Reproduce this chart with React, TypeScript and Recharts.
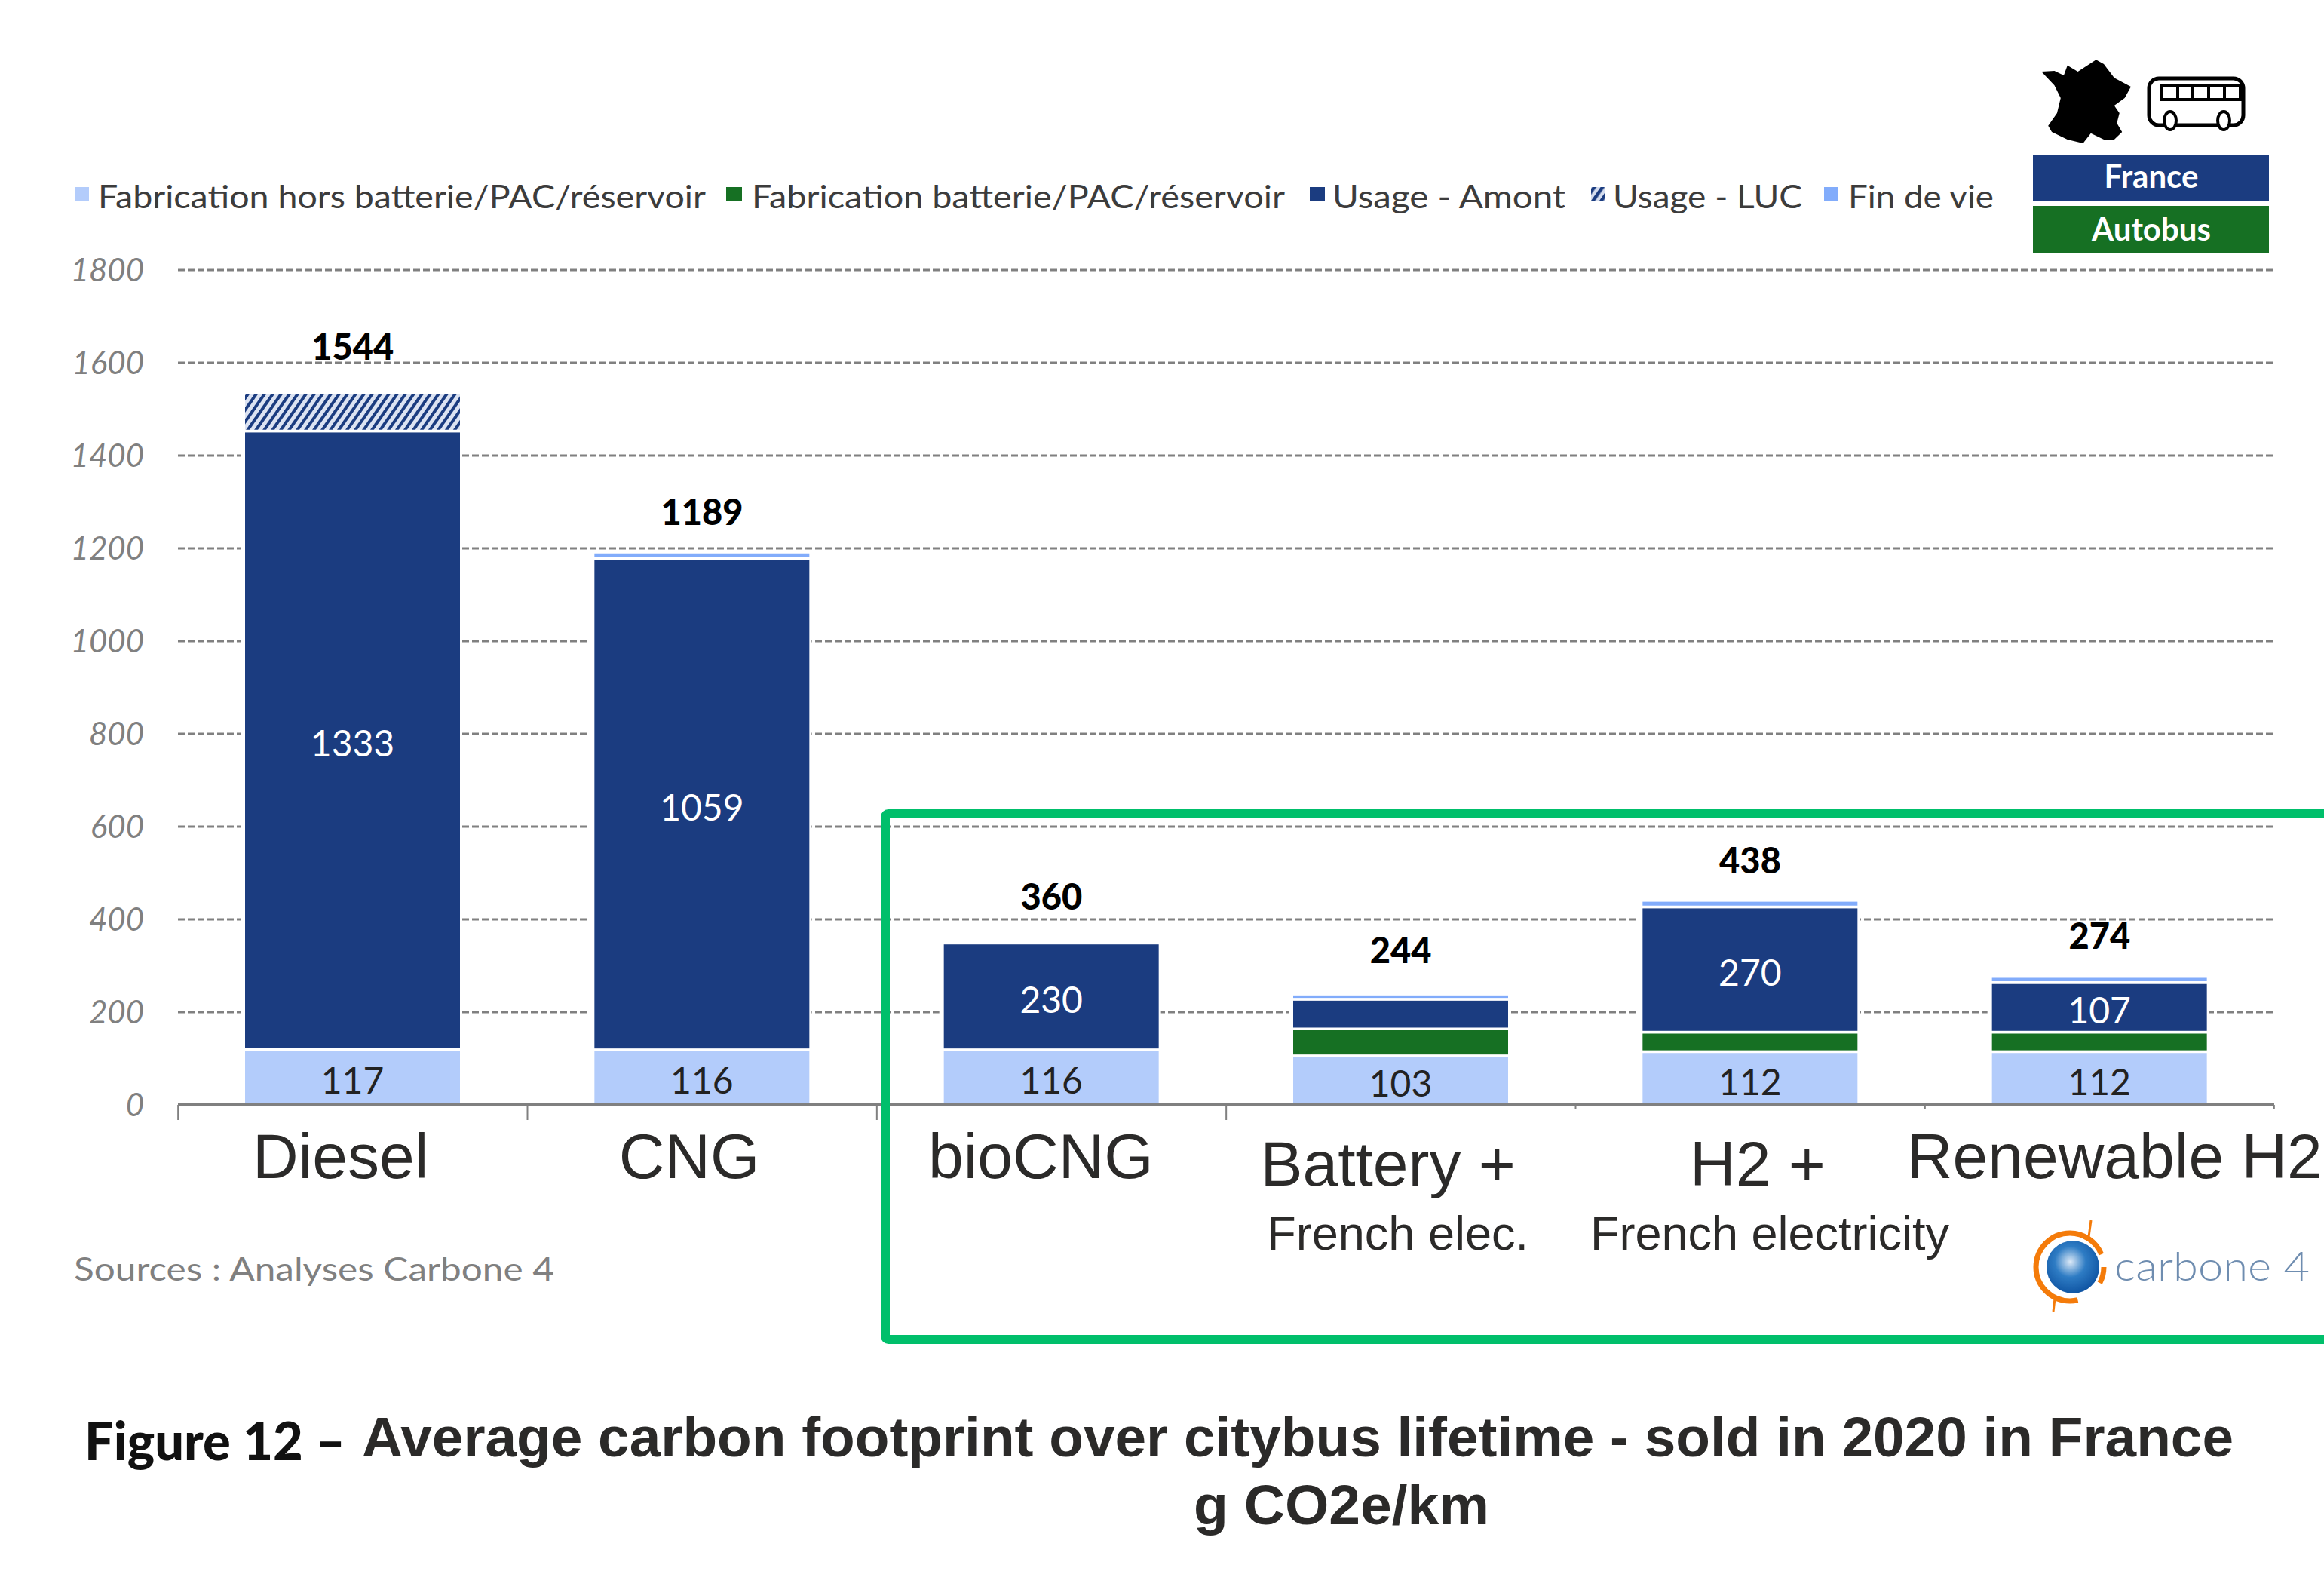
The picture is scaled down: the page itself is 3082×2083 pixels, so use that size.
import React from 'react';
import { ComposedChart, Bar, Line, XAxis, YAxis, CartesianGrid, LabelList } from 'recharts';

const categories = ['Diesel', 'CNG', 'bioCNG', 'Battery +', 'H2 +', 'Renewable H2'];
const subLabels = ['', '', '', 'French elec.', 'French electricity', ''];
const fabrication = [117, 116, 116, 103, 112, 112];
const battery = [0, 0, 0, 58, 42, 42];
const usageUp = [1333, 1059, 230, 64, 270, 107];
const usageLuc = [83, 0, 0, 0, 0, 0];
const endOfLife = [0, 14, 0, 11, 14, 13];
const totals = [1544, 1189, 360, 244, 438, 274];
const yTicks = [0, 200, 400, 600, 800, 1000, 1200, 1400, 1600, 1800];
const legendNames = [
  'Fabrication hors batterie/PAC/réservoir',
  'Fabrication batterie/PAC/réservoir',
  'Usage - Amont',
  'Usage - LUC',
  'Fin de vie',
];

const data = categories.map((name, i) => ({
  name,
  fabrication: fabrication[i],
  battery: battery[i],
  usageUp: usageUp[i],
  usageLuc: usageLuc[i],
  endOfLife: endOfLife[i],
  total: totals[i],
}));

const LIGHT = '#B3CCFB';
const GREEN = '#167023';
const NAVY = '#1B3C80';
const FIN = '#82ACFB';
const GREY = '#808080';
const INK = '#2B2A29';
const BOX = '#00BF6B';
const LATO = 'Lato, sans-serif';
const ARIAL = '"Liberation Sans", Arial, sans-serif';

const legendLayout = [
  { sx: 100, sw: 18, tx: 130, tw: 806, fill: LIGHT },
  { sx: 963, sw: 21, tx: 997, tw: 707, fill: GREEN },
  { sx: 1737, sw: 20, tx: 1767, tw: 309, fill: NAVY },
  { sx: 2110, sw: 18, tx: 2139, tw: 251, fill: 'url(#lucHatch)' },
  { sx: 2419, sw: 18, tx: 2451, tw: 193, fill: FIN },
];

const tickDx = [-16, -17, -14, -17, 10, 20];
const tickBaseline = [97, 97, 97, 107, 107, 97];
const subDx = [0, 0, 0, -4, 26, 0];
const tickLen = [20, 20, 20, 20, 5, 5];
const BAND = 463;

const segment = (gap: number) => (p: any) => {
  const { x, y, width, height, fill } = p;
  if (!height || height <= 0) return <g />;
  return (
    <g>
      <rect x={x - 6} y={y} width={width + 9} height={height} fill="#fff" />
      <rect x={x} y={y} width={width} height={Math.max(height - gap, 0)} fill={fill} />
    </g>
  );
};

const CategoryTick = (p: any) => {
  const { x, y, payload } = p;
  const i = payload.index;
  const top = y;
  return (
    <g>
      <line x1={x - BAND / 2} x2={x - BAND / 2} y1={top} y2={top + tickLen[i]} stroke={GREY} strokeWidth={2} />
      {i === categories.length - 1 && (
        <line x1={x + BAND / 2} x2={x + BAND / 2} y1={top} y2={top + 5} stroke={GREY} strokeWidth={2} />
      )}
      <text x={x + tickDx[i]} y={top + tickBaseline[i]} textAnchor="middle" fontFamily={ARIAL} fontSize={84} fill={INK}>
        {payload.value}
      </text>
      {subLabels[i] && (
        <text x={x + subDx[i]} y={top + 192} textAnchor="middle" fontFamily={ARIAL} fontSize={63} fill={INK}>
          {subLabels[i]}
        </text>
      )}
    </g>
  );
};

const Overlay = () => (
  <svg width={3082} height={2083} style={{ position: 'absolute', left: 0, top: 0, pointerEvents: 'none' }}>
    <defs>
      <pattern id="lucHatchLegend" width="9" height="9" patternUnits="userSpaceOnUse" patternTransform="rotate(35)">
        <rect width="9" height="9" fill="#D5DDEE" />
        <rect width="4.5" height="9" fill={NAVY} />
      </pattern>
      <radialGradient id="globe" cx="45%" cy="40%" r="65%">
        <stop offset="0%" stopColor="#DCE9F7" />
        <stop offset="45%" stopColor="#2E7CC4" />
        <stop offset="100%" stopColor="#0B4F9E" />
      </radialGradient>
    </defs>

    {legendNames.map((name, i) => {
      const l = legendLayout[i];
      return (
        <g key={name}>
          <rect x={l.sx} y={248} width={l.sw} height={18} fill={i === 3 ? 'url(#lucHatchLegend)' : l.fill} />
          <text x={l.tx} y={276} fontFamily={LATO} fontSize={42} fill="#3C3C3C" textLength={l.tw} lengthAdjust="spacingAndGlyphs">
            {name}
          </text>
        </g>
      );
    })}

    <rect x={1174} y={1079} width={2000} height={697} rx={4} fill="none" stroke={BOX} strokeWidth={12} />

    <text x={98} y={1698} fontFamily={LATO} fontSize={42} fill={GREY} textLength={637} lengthAdjust="spacingAndGlyphs">
      Sources : Analyses Carbone 4
    </text>

    <g transform="translate(2000,50) scale(0.69,0.3333)">
      <polygon
        fill="#000"
        points="1025,135 1050,132 1068,150 1075,110 1095,135 1130,88 1145,105 1165,160 1197,195 1185,240 1165,270 1175,300 1170,340 1180,375 1165,405 1145,405 1120,380 1105,420 1075,405 1045,375 1038,350 1055,300 1062,240 1050,190"
      />
    </g>

    <g>
      <rect x={2850} y={104} width={125} height={62} rx={13} fill="#fff" stroke="#000" strokeWidth={5} />
      <rect x={2867} y={114} width={104} height={18} fill="#fff" stroke="#000" strokeWidth={4} />
      <line x1={2888} x2={2888} y1={114} y2={132} stroke="#000" strokeWidth={4} />
      <line x1={2908} x2={2908} y1={114} y2={132} stroke="#000" strokeWidth={4} />
      <line x1={2929} x2={2929} y1={114} y2={132} stroke="#000" strokeWidth={4} />
      <line x1={2950} x2={2950} y1={114} y2={132} stroke="#000" strokeWidth={4} />
      <ellipse cx={2878} cy={160} rx={8} ry={12} fill="#fff" stroke="#000" strokeWidth={4} />
      <ellipse cx={2949} cy={160} rx={8} ry={12} fill="#fff" stroke="#000" strokeWidth={4} />
    </g>

    <rect x={2696} y={205} width={313} height={61} fill={NAVY} />
    <text x={2853} y={249} textAnchor="middle" fontFamily={LATO} fontWeight={700} fontSize={42} fill="#fff">France</text>
    <rect x={2696} y={273} width={313} height={62} fill={GREEN} />
    <text x={2853} y={319} textAnchor="middle" fontFamily={LATO} fontWeight={700} fontSize={42} fill="#fff">Autobus</text>

    <circle cx={2749} cy={1680} r={35} fill="url(#globe)" />
    <circle cx={2745} cy={1680} r={45} fill="none" stroke="#F47B0A" strokeWidth={7} strokeDasharray="205 40 38" strokeDashoffset={-60} />
    <line x1={2773} y1={1618} x2={2770} y2={1640} stroke="#F47B0A" strokeWidth={3} />
    <line x1={2723} y1={1739} x2={2725} y2={1722} stroke="#F47B0A" strokeWidth={3} />
    <text x={2804} y={1698} fontFamily={LATO} fontWeight={300} fontSize={54} fill="#6F8DB0" textLength={259} lengthAdjust="spacingAndGlyphs">
      carbone 4
    </text>

    <text x={112} y={1936} fontFamily={LATO} fontWeight={900} fontSize={70} fill="#111" textLength={346} lengthAdjust="spacingAndGlyphs">
      Figure 12 –
    </text>
    <text x={480} y={1931} fontFamily={ARIAL} fontWeight={700} fontSize={75} fill={INK} textLength={2482} lengthAdjust="spacingAndGlyphs">
      Average carbon footprint over citybus lifetime - sold in 2020 in France
    </text>
    <text x={1779} y={2021} textAnchor="middle" fontFamily={ARIAL} fontWeight={700} fontSize={75} fill={INK}>
      g CO2e/km
    </text>
  </svg>
);

const bigLabel = (v: any) => (Number(v) >= 100 ? v : '');

export default function App() {
  return (
    <div style={{ position: 'absolute', left: 0, top: 0, width: 3082, height: 2083, background: '#fff', overflow: 'hidden' }}>
      <ComposedChart
        width={3082}
        height={2083}
        data={data}
        barSize={285}
        margin={{ top: 358, right: 66, bottom: 518, left: 136 }}
      >
        <defs>
          <pattern id="lucHatch" width="9" height="9" patternUnits="userSpaceOnUse" patternTransform="rotate(35)">
            <rect width="9" height="9" fill="#DCE3F2" />
            <rect width="4" height="9" fill={NAVY} />
          </pattern>
        </defs>
        <CartesianGrid horizontal vertical={false} stroke={GREY} strokeWidth={3} strokeDasharray="9 4" />
        <YAxis
          width={100}
          domain={[0, 1800]}
          ticks={yTicks}
          interval={0}
          axisLine={false}
          tickLine={false}
          tickSize={0}
          tickMargin={45}
          tick={{ fontFamily: LATO, fontStyle: 'italic', fontSize: 42, fill: GREY }}
        />
        <XAxis
          dataKey="name"
          height={100}
          interval={0}
          axisLine={{ stroke: GREY, strokeWidth: 4 }}
          tickLine={false}
          tickSize={0}
          tickMargin={0}
          tick={<CategoryTick />}
        />
        <Bar dataKey="fabrication" stackId="a" fill={LIGHT} shape={segment(2)} isAnimationActive={false}>
          <LabelList dataKey="fabrication" position="center" dy={4} fontFamily={LATO} fontSize={48} fill="#222" />
        </Bar>
        <Bar dataKey="battery" stackId="a" fill={GREEN} shape={segment(3.5)} isAnimationActive={false} />
        <Bar dataKey="usageUp" stackId="a" fill={NAVY} shape={segment(3.5)} isAnimationActive={false}>
          <LabelList dataKey="usageUp" position="center" dy={3} formatter={bigLabel} fontFamily={LATO} fontSize={48} fill="#fff" />
        </Bar>
        <Bar dataKey="usageLuc" stackId="a" fill="url(#lucHatch)" shape={segment(3.5)} isAnimationActive={false} />
        <Bar dataKey="endOfLife" stackId="a" fill={FIN} shape={segment(3.5)} isAnimationActive={false} />
        <Line dataKey="total" stroke="none" dot={false} activeDot={false} legendType="none" isAnimationActive={false}>
          <LabelList dataKey="total" position="top" offset={38} fontFamily={LATO} fontWeight={900} fontSize={47} fill="#000" />
        </Line>
      </ComposedChart>
      <Overlay />
    </div>
  );
}
